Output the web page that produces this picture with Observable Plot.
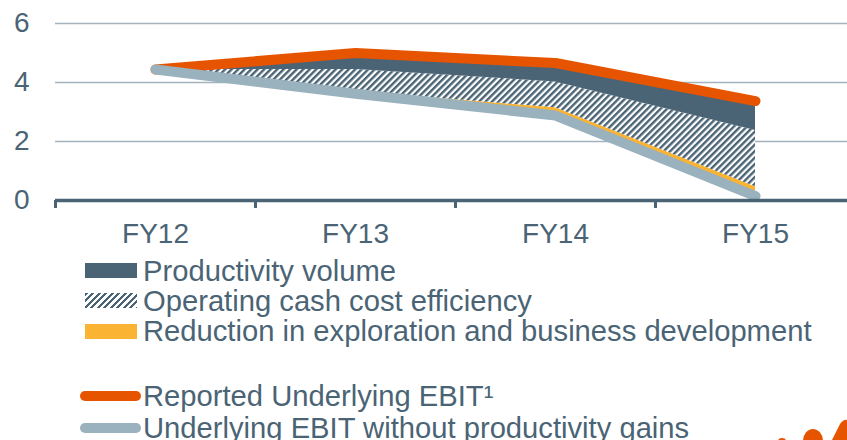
<!DOCTYPE html>
<html>
<head>
<meta charset="utf-8">
<script src="https://cdn.jsdelivr.net/npm/d3@7"></script>
<script src="https://cdn.jsdelivr.net/npm/@observablehq/plot@0.6"></script>
<style>
  html, body { margin: 0; padding: 0; background: #fff; }
  body { position: relative; width: 847px; height: 440px; overflow: hidden; font-family: "Liberation Sans", Arial, sans-serif; color: #4a6475; }
  #chart { position: absolute; left: 0; top: 0; }
  .row { position: absolute; left: 0; height: 30px; line-height: 30px; font-size: 29.2px; white-space: nowrap; }
  .row span.t { position: absolute; left: 143px; top: 0; }
  .sw { position: absolute; }
  #logo { position: absolute; left: 760px; top: 410px; }
</style>
</head>
<body>
<div id="chart"></div>
<div id="legend"></div>
<svg id="logo" width="87" height="30" viewBox="0 0 87 30">
  <ellipse cx="22" cy="31" rx="4" ry="3" fill="#e65400"/>
  <ellipse cx="53" cy="31" rx="10" ry="12" fill="#e65400"/>
  <path d="M72 30 L80 14 Q84 9 87 10 L87 30 Z" fill="#e65400"/>
</svg>
<script>
// ---- data ----
const fiscalYears = ["FY12", "FY13", "FY14", "FY15"];
const ebitWithoutGains = [4.44, 3.62, 2.88, 0.15];      // Underlying EBIT without productivity gains
const explorationReduction = [0, 0.08, 0.26, 0.32];     // Reduction in exploration and business development
const cashCostEfficiency = [0, 0.74, 0.88, 1.90];       // Operating cash cost efficiency
const productivityVolume = [0, 0.56, 0.64, 1.00];       // Productivity volume
const yTicks = [0, 2, 4, 6];
const gridValues = [2, 4, 6];

const legendAreas = ["Productivity volume", "Operating cash cost efficiency", "Reduction in exploration and business development"];
const legendLines = ["Reported Underlying EBIT\u00B9", "Underlying EBIT without productivity gains"];

// ---- colours ----
const C = {
  slate: "#4a6475",
  orange: "#e65400",
  yellow: "#fab333",
  grayLine: "#9ab1be",
  grid: "#a4b3bc",
  text: "#4a6475"
};

// ---- stacked table built from arrays ----
const rows = fiscalYears.map((fy, i) => {
  const b = ebitWithoutGains[i];
  const e = b + explorationReduction[i];
  const c = e + cashCostEfficiency[i];
  const p = c + productivityVolume[i];
  return {i, fy, base: b, expTop: e, cashTop: c, reported: p};
});

const defs = () => {
  const d = d3.create("svg:defs");
  const pat = d.append("pattern")
    .attr("id", "hatch")
    .attr("patternUnits", "userSpaceOnUse")
    .attr("width", 4.6).attr("height", 4.6)
    .attr("patternTransform", "rotate(45)");
  pat.append("rect").attr("width", 4.6).attr("height", 4.6).attr("fill", "#fff");
  pat.append("rect").attr("width", 2.4).attr("height", 4.6).attr("fill", C.slate);
  return d.node();
};

const boundaryTicks = fiscalYears.map((_, i) => i - 0.5);

const plot = Plot.plot({
  width: 847,
  height: 250,
  marginLeft: 55,
  marginRight: 0,
  marginTop: 23,
  marginBottom: 50,
  style: {fontFamily: "'Liberation Sans', Arial, sans-serif", background: "transparent", color: C.text},
  x: {type: "linear", domain: [-0.5, fiscalYears.length - 0.5], range: [55, 855], label: null},
  y: {domain: [0, 6], label: null},
  marks: [
    defs,
    Plot.ruleY(gridValues, {stroke: C.grid, strokeWidth: 1.5}),
    Plot.areaY(rows, {x: "i", y1: "base", y2: "expTop", fill: C.yellow}),
    Plot.areaY(rows, {x: "i", y1: "expTop", y2: "cashTop", fill: "url(#hatch)"}),
    Plot.areaY(rows, {x: "i", y1: "cashTop", y2: "reported", fill: C.slate}),
    Plot.line(rows, {x: "i", y: "reported", stroke: C.orange, strokeWidth: 10, strokeLinecap: "round", strokeLinejoin: "round"}),
    Plot.line(rows, {x: "i", y: "base", stroke: C.grayLine, strokeWidth: 10, strokeLinecap: "round", strokeLinejoin: "round"}),
    Plot.ruleY([0], {stroke: C.slate, strokeWidth: 3.5}),
    Plot.axisX({ticks: boundaryTicks, tickSize: 8, tickFormat: () => "", stroke: C.slate, strokeWidth: 3, label: null}),
    Plot.axisX({ticks: fiscalYears.map((_, i) => i), tickSize: 0, tickPadding: 23, tickFormat: i => fiscalYears[i], fontSize: 28, fill: C.text, label: null}),
    Plot.axisY({ticks: yTicks, tickSize: 0, tickPadding: 26, fontSize: 28, fill: C.text, tickFormat: d => String(d), label: null})
  ]
});
document.getElementById("chart").appendChild(plot);

// ---- legend ----
const legend = document.getElementById("legend");
const areaSwatches = [
  `background:${C.slate}`,
  `background:repeating-linear-gradient(135deg, ${C.slate} 0 2.4px, #fff 2.4px 4.6px)`,
  `background:${C.yellow}`
];
const areaCenters = [270.5, 300.5, 331];
legendAreas.forEach((label, k) => {
  const r = document.createElement("div");
  r.className = "row";
  r.style.top = (areaCenters[k] - 15) + "px";
  r.style.width = "847px";
  r.innerHTML = `<div class="sw" style="left:85px;top:7.5px;width:52px;height:15px;${areaSwatches[k]}"></div><span class="t">${label}</span>`;
  legend.appendChild(r);
});
const lineColors = [C.orange, C.grayLine];
const lineCenters = [396, 427.5];
legendLines.forEach((label, k) => {
  const r = document.createElement("div");
  r.className = "row";
  r.style.top = (lineCenters[k] - 15) + "px";
  r.style.width = "847px";
  r.innerHTML = `<div class="sw" style="left:80px;top:10px;width:61px;height:10px;border-radius:5px;background:${lineColors[k]}"></div><span class="t">${label}</span>`;
  legend.appendChild(r);
});
</script>
</body>
</html>
